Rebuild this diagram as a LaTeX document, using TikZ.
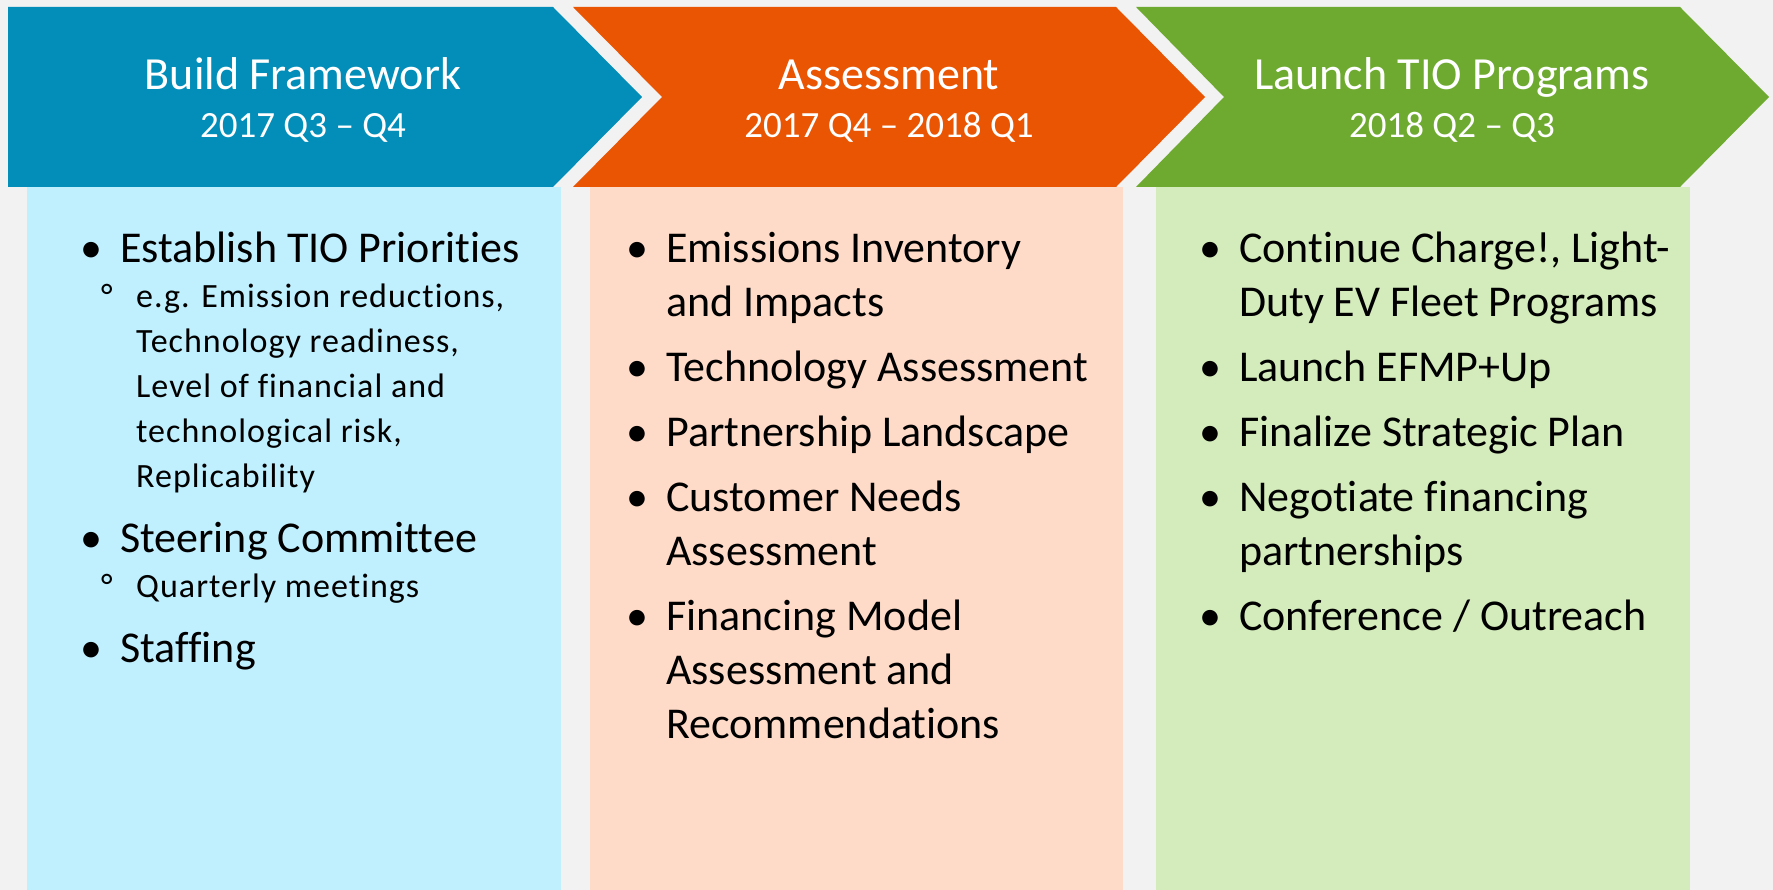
\documentclass[tikz,border=0pt]{standalone}
\usepackage{fontspec}
\setmainfont{Carlito}[Ligatures=NoCommon]
\newfontfamily\subfont{Carlito}[Ligatures=NoCommon, LetterSpace=3]
\usepackage{tikz}
\usetikzlibrary{positioning}
\definecolor{pageGray}{HTML}{F2F2F2}
\definecolor{buildBlue}{HTML}{028EB9}
\definecolor{assessOrange}{HTML}{EA5504}
\definecolor{launchGreen}{HTML}{6EAA2F}
\definecolor{buildPale}{HTML}{C0EFFE}
\definecolor{assessPale}{HTML}{FEDBC9}
\definecolor{launchPale}{HTML}{D4EBBB}

% one bullet point and one sub point
\newcommand{\mainpt}[1]{\normalfont\fontsize{44}{54}\selectfont\parskip=11pt
  \hangindent=40pt\hangafter=1\noindent\makebox[40pt][l]{•}#1\par}
\newcommand{\subpt}[1]{\subfont\fontsize{34}{45}\selectfont\parskip=0pt
  \hangindent=56pt\hangafter=1\noindent\hspace*{21pt}\makebox[35pt][l]{°}#1\par}
\newcommand{\ptlist}[1]{\parbox[t]{520pt}{#1}}

\begin{document}
\begin{tikzpicture}[x=1pt, y=-1pt,
    title/.style={anchor=base, text=white, inner sep=0pt, font=\fontsize{46}{46}\selectfont},
    period/.style={anchor=base, text=white, inner sep=0pt, font=\fontsize{37}{37}\selectfont},
    body/.style={anchor=base west, inner sep=0pt}]
    \useasboundingbox (0,0) rectangle (1773,890);
    \fill[pageGray] (0,0) rectangle (1773,890);

    % Columns
    \fill[buildPale] (27,187) rectangle (561,890);
    \fill[assessPale] (590,187) rectangle (1123,890);
    \fill[launchPale] (1156,187) rectangle (1690,890);

    % Chevrons
    \fill[buildBlue] (8,7) -- (553,7) -- (642,97) -- (553,187) -- (8,187) -- cycle;
    \fill[assessOrange] (573,7) -- (1116,7) -- (1205,97) -- (1116,187) -- (573,187) -- (662,97) -- cycle;
    \fill[launchGreen] (1136,7) -- (1680,7) -- (1769,97) -- (1680,187) -- (1136,187) -- (1224,97) -- cycle;

    \node[title] (buildTitle) at (303,90) {Build Framework};
    \node[period] (buildDate) at (303,138) {2017 Q3 – Q4};
    \node[title] (assessTitle) at (889,90) {Assessment};
    \node[period] (assessDate) at (889,138) {2017 Q4 – 2018 Q1};
    \node[title] (launchTitle) at (1452,90) {Launch TIO Programs};
    \node[period] (launchDate) at (1452,138) {2018 Q2 – Q3};

    % Bullet lists
    \node[body] (buildList) at (80,263) {\ptlist{%
        \mainpt{Establish TIO Priorities}
        \subpt{e.g. Emission reductions,\\Technology readiness,\\Level of financial and\\technological risk,\\Replicability}
        \mainpt{Steering Committee}
        \subpt{Quarterly meetings}
        \mainpt{Staffing}}};
    \node[body] (assessList) at (626,263) {\ptlist{%
        \mainpt{Emissions Inventory\\and Impacts}
        \mainpt{Technology Assessment}
        \mainpt{Partnership Landscape}
        \mainpt{Customer Needs\\Assessment}
        \mainpt{Financing Model\\Assessment and\\Recommendations}}};
    \node[body] (launchList) at (1199,263) {\ptlist{%
        \mainpt{Continue Charge!, Light-\\Duty EV Fleet Programs}
        \mainpt{Launch EFMP+Up}
        \mainpt{Finalize Strategic Plan}
        \mainpt{Negotiate financing\\partnerships}
        \mainpt{Conference / Outreach}}};
\end{tikzpicture}
\end{document}
